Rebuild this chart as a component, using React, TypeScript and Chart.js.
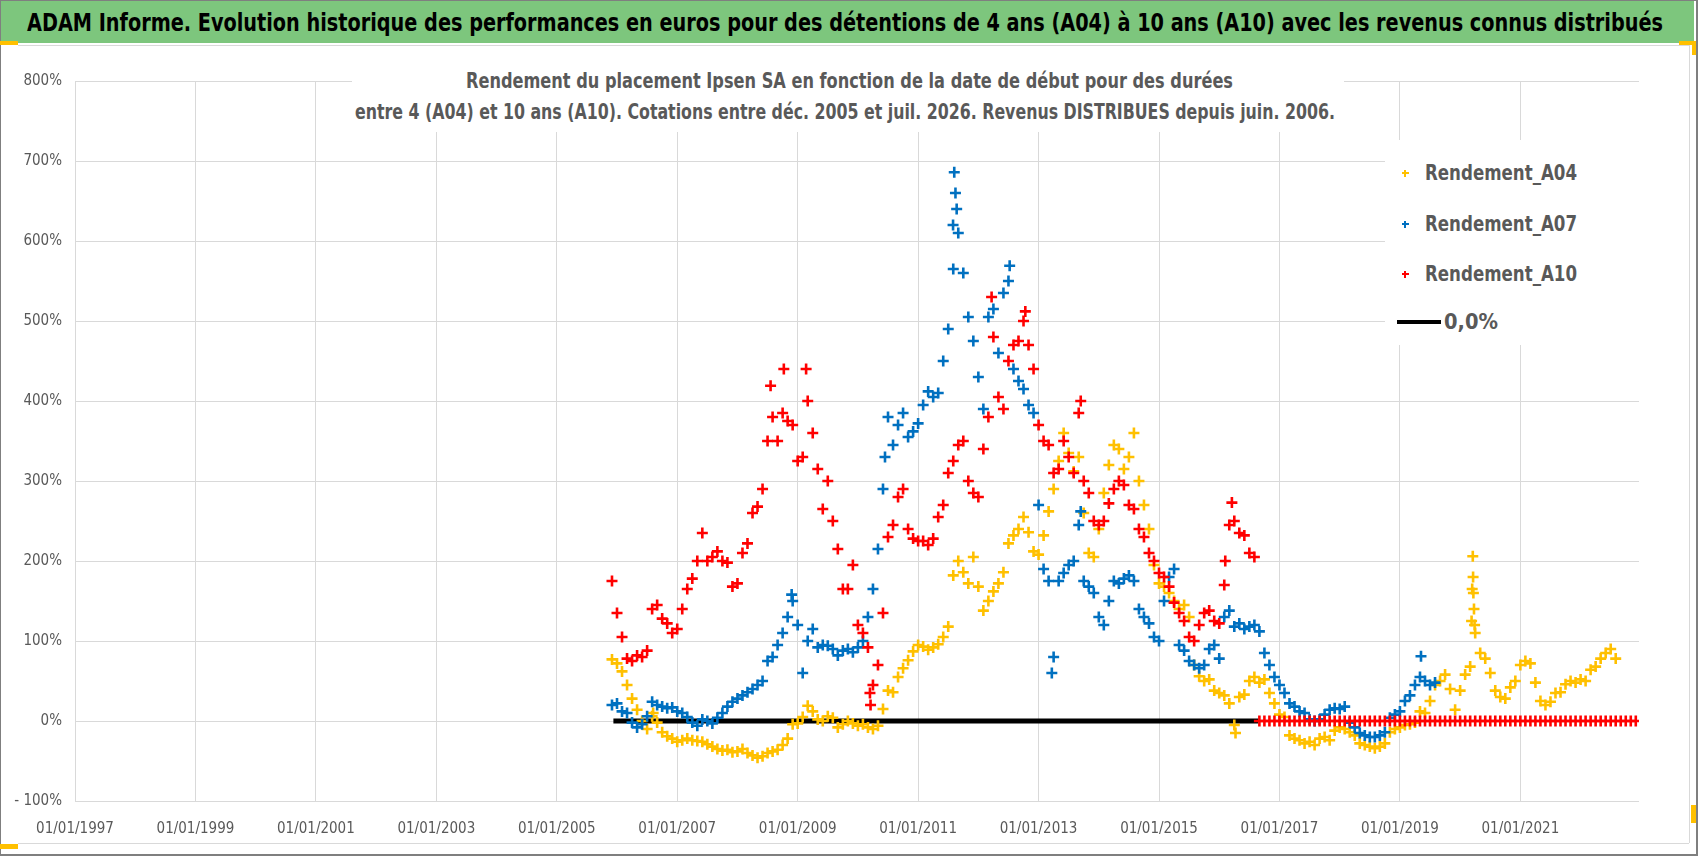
import React, { useEffect, useRef } from "react";
import { Chart, registerables } from "chart.js";

Chart.register(...registerables);

const FONT = "'Liberation Sans Narrow', 'DejaVu Sans Condensed', 'Liberation Sans', sans-serif";

const titleText =
  "ADAM Informe. Evolution historique des performances en euros pour des détentions de 4 ans (A04) à 10 ans (A10) avec les revenus connus distribués";
const subtitleLines = [
  "Rendement du placement Ipsen SA en fonction de la date de début pour des durées",
  "entre 4 (A04) et 10 ans (A10). Cotations entre déc. 2005 et juil. 2026. Revenus DISTRIBUES depuis juin. 2006.",
];
const seriesNames = ["Rendement_A04", "Rendement_A07", "Rendement_A10", "0,0%"];
const seriesColors = ["#FFC000", "#0070C0", "#FF0000", "#000000"];

const xTickYears = [1997, 1999, 2001, 2003, 2005, 2007, 2009, 2011, 2013, 2015, 2017, 2019, 2021];
const yTicks = [-100, 0, 100, 200, 300, 400, 500, 600, 700, 800];
const xMin = 1997;
const xMax = 2022.97;

// monthly series start in December 2005
const firstYear = 2005;
const firstMonth = 11; // 0-based -> December

const a04Values = [
  77,
  72, 62, 45, 28, 14, 0, -10, 6, -2, -14, -19, -22,
  -26, -24, -22, -24, -25, -26, -29, -32, -35, -37, -36, -39,
  -38, -35, -40, -43, -46, -44, -40, -38, -36, -30, -22, -4,
  -3, 5, 19, 12, 2, 0, 6, 4, -8, -4, 0, -3,
  -6, -4, -8, -10, -6, 15, 38, 36, 55, 66, 76, 87,
  95, 93, 89, 92, 96, 105, 118, 182, 200, 186, 172, 205,
  168, 138, 150, 162, 172, 186, 222, 232, 240, 255, 236, 212,
  208, 232, 262, 290, 325, 360, 335, 312, 330, 260, 210, 205,
  240, 285, 320, 345, 340, 315, 330, 360, 300, 270, 240, 195,
  172, 168, 160, 150, 140, 145, 130, 70, 56, 50, 52, 38,
  35, 32, 22, -5, 30, 33, 50, 55, 48, 52, 35, 22,
  8, 5, -18, -22, -24, -28, -26, -30, -22, -20, -24, -12,
  -8, -10, -14, -18, -28, -30, -32, -34, -32, -28, -14, -10,
  -8, -5, -4, -2, 12, 10, 25, 45, 50, 58, 40, 14,
  38, 58, 68, 110, 85, 78, 60, 38, 30, 28, 42, 50,
  70, 75, 72, 48, 25, 20, 24, 35, 36, 46, 50, 48,
  52, 50, 64, 68, 78, 85, 90, 78,
];
const a04Extra: [number, number][] = [
  [2006.6, 10], [2016.27, -15], [2020.19, 125], [2020.2, 165], [2020.21, 206],
  [2020.215, 180], [2020.22, 160], [2020.23, 140], [2020.24, 120],
];

const a07Values = [
  20,
  22, 12, 10, -2, -8, -4, 6, 24, 20, 18, 16, 17,
  12, 10, 5, -2, -6, 2, 0, -3, 4, 10, 18, 24,
  28, 32, 36, 40, 45, 50, 75, 80, 95, 110, 130, 150,
  120, 60, 100, 115, 92, 95, 94, 90, 82, 88, 90, 86,
  92, 100, 130, 165, 215, 290, 380, 345, 370, 385, 355, 362,
  372, 395, 412, 405, 410, 450, 490, 565, 610, 560, 505, 475,
  430, 390, 505, 515, 460, 535, 550, 440, 425, 415, 395, 385,
  270, 190, 175, 80, 175, 185, 195, 200, 245, 175, 168, 160,
  130, 120, 150, 175, 172, 178, 182, 175, 140, 130, 122, 105,
  100, 150, 180, 190, 95, 88, 75, 70, 66, 70, 90, 95,
  78, 130, 138, 118, 122, 115, 118, 120, 112, 85, 70, 55,
  45, 35, 22, 18, 12, 10, 2, 0, 2, 8, 14, 16,
  15, 18, -2, -8, -15, -18, -20, -20, -18, -14, 4, 8,
  12, 25, 32, 45, 55, 50, 45, 48,
];
const a07Extra: [number, number][] = [
  [2008.9, 158], [2010.45, 330], [2011.58, 620], [2011.6, 686], [2011.62, 660],
  [2011.64, 640], [2012.52, 569], [2013.22, 60], [2013.7, 262], [2019.35, 81],
];

const a10Values = [
  175,
  135, 105, 78, 75, 82, 80, 88, 140, 145, 128, 122, 110,
  115, 140, 165, 178, 200, 235, 200, 205, 212, 200, 198, 168,
  172, 210, 222, 260, 268, 290, 350, 380, 350, 385, 375, 370,
  325, 330, 400, 360, 315, 265, 300, 250, 215, 165, 165, 195,
  120, 110, 92, 45, 70, 135, 230, 245, 280, 290, 240, 228,
  225, 225, 220, 228, 255, 270, 310, 325, 345, 350, 300, 285,
  280, 340, 380, 480, 405, 390, 450, 470, 475, 500, 470, 440,
  370, 350, 345, 310, 315, 350, 330, 310, 385, 300, 285, 250,
  245, 250, 272, 290, 300, 295, 270, 265, 240, 230, 210, 200,
  185, 180, 168, 148, 135, 125, 105, 100, 120, 135, 138, 125,
  122, 170, 245, 250, 235, 232, 210, 205,
  0, 0, 0, 0,
  0, 0, 0, 0, 0, 0, 0, 0, 0, 0, 0, 0,
  0, 0, 0, 0, 0, 0, 0, 0, 0, 0, 0, 0,
  0, 0, 0, 0, 0, 0, 0, 0, 0, 0, 0, 0,
  0, 0, 0, 0, 0, 0, 0, 0, 0, 0, 0, 0,
  0, 0, 0, 0, 0, 0, 0, 0, 0, 0, 0, 0,
  0, 0, 0, 0, 0, 0, 0, 0, 0, 0, 0, 0,
];
const a10Extra: [number, number][] = [
  [2008.55, 419], [2008.77, 440], [2009.14, 440], [2010.2, 35], [2010.21, 20],
  [2012.22, 530], [2012.78, 512], [2013.7, 400], [2016.1, 200], [2016.21, 273],
];

const zeroLineStart = 2005.94;
const zeroLineEnd = 2016.65;

function toPoints(values: number[], extra: [number, number][]) {
  const pts = values.map((v, i) => ({ x: firstYear + (firstMonth + i) / 12, y: v }));
  extra.forEach(([x, y]) => pts.push({ x, y }));
  return pts;
}

let measureCtx: CanvasRenderingContext2D | null = null;
function measure(text: string, font: string) {
  if (!measureCtx) measureCtx = document.createElement("canvas").getContext("2d");
  measureCtx!.font = font;
  return measureCtx!.measureText(text).width;
}

function FitText(props: {
  text: string; left: number; cy: number; width: number; font: string; color: string;
}) {
  const w = measure(props.text, props.font) || props.width;
  const k = props.width / w;
  return (
    <div
      style={{
        position: "absolute", left: props.left, top: props.cy, font: props.font,
        color: props.color, whiteSpace: "nowrap", lineHeight: 1,
        transform: `translateY(-50%) scaleX(${k})`, transformOrigin: "left center",
      }}
    >
      {props.text}
    </div>
  );
}

function abs(left: number, top: number, width: number, height: number, bg: string): React.CSSProperties {
  return { position: "absolute", left, top, width, height, background: bg };
}

export default function App() {
  const ref = useRef<HTMLCanvasElement>(null);

  useEffect(() => {
    document.body.style.margin = "0";
    const canvas = ref.current!;
    const cross = (color: string, data: any[], order: number, label: string) => ({
      type: "scatter" as const, label, data, order, pointStyle: "cross" as const,
      pointRadius: 5.5, pointBorderWidth: 2.6, borderColor: color, backgroundColor: color,
      showLine: false,
    });
    const chart = new Chart(canvas, {
      type: "scatter",
      data: {
        datasets: [
          {
            type: "line", label: seriesNames[3],
            data: [{ x: zeroLineStart, y: 0 }, { x: zeroLineEnd, y: 0 }],
            borderColor: seriesColors[3], borderWidth: 5, pointRadius: 0, order: 4,
          } as any,
          cross(seriesColors[0], toPoints(a04Values, a04Extra), 3, seriesNames[0]),
          cross(seriesColors[1], toPoints(a07Values, a07Extra), 2, seriesNames[1]),
          cross(seriesColors[2], toPoints(a10Values, a10Extra), 1, seriesNames[2]),
        ],
      },
      options: {
        animation: false,
        responsive: false,
        maintainAspectRatio: false,
        events: [],
        layout: { padding: { left: 0, right: 59, top: 81, bottom: 10 } },
        plugins: { legend: { display: false }, tooltip: { enabled: false }, title: { display: false } },
        scales: {
          x: {
            type: "linear", min: xMin, max: xMax,
            afterBuildTicks: (s: any) => { s.ticks = xTickYears.map((v) => ({ value: v })); },
            afterFit: (s: any) => { s.height = 45; },
            ticks: {
              callback: (v: any) => `01/01/${v}`, color: "#595959",
              font: { family: FONT, size: 15 }, padding: 19, maxRotation: 0, autoSkip: false,
            },
            grid: { color: "#d9d9d9", lineWidth: 1, drawTicks: false },
            border: { display: false },
          },
          y: {
            type: "linear", min: -100, max: 800,
            afterBuildTicks: (s: any) => { s.ticks = yTicks.map((v) => ({ value: v })); },
            afterFit: (s: any) => { s.width = 75; },
            ticks: {
              callback: (v: any) => (v < 0 ? `- ${-v}%` : `${v}%`), color: "#595959",
              font: { family: FONT, size: 15 }, padding: 13,
            },
            grid: { color: "#d9d9d9", lineWidth: 1, drawTicks: false },
            border: { display: false },
          },
        },
      },
    } as any);
    return () => chart.destroy();
  }, []);

  const titleFont = `bold 25px ${FONT}`;
  const subFont = `bold 22px ${FONT}`;
  const legFont = `bold 22px ${FONT}`;
  const legendRows = [173, 224, 274, 322];

  return (
    <div style={{ position: "fixed", left: 0, top: 0, width: 1698, height: 856, background: "#fff", overflow: "hidden" }}>
      <canvas ref={ref} width={1698} height={856} style={{ position: "absolute", left: 0, top: 0, width: 1698, height: 856 }} />
      {/* frame */}
      <div style={abs(0, 0, 1698, 1, "#7f7f7f")} />
      <div style={abs(0, 0, 1, 856, "#7f7f7f")} />
      <div style={abs(1696, 0, 2, 856, "#7f7f7f")} />
      <div style={abs(0, 854, 1698, 2, "#7f7f7f")} />
      <div style={abs(1, 1, 1693, 42, "#7dc67d")} />
      <div style={abs(18, 45, 1671, 1, "#d9d9d9")} />
      <div style={abs(1689, 45, 1, 798, "#d9d9d9")} />
      <div style={abs(18, 843, 1671, 1, "#d9d9d9")} />
      <div style={abs(0, 41, 18, 4, "#FFC000")} />
      <div style={abs(1679, 41, 17, 4, "#FFC000")} />
      <div style={abs(1692, 41, 4, 14, "#FFC000")} />
      <div style={abs(0, 844, 18, 5, "#FFC000")} />
      <div style={abs(1691, 805, 5, 18, "#FFC000")} />
      <FitText text={titleText} left={27} cy={22} width={1636} font={titleFont} color="#000" />
      {/* subtitle */}
      <div style={abs(352, 58, 992, 74, "#fff")} />
      <FitText text={subtitleLines[0]} left={466} cy={81} width={767} font={subFont} color="#595959" />
      <FitText text={subtitleLines[1]} left={355} cy={112} width={980} font={subFont} color="#595959" />
      {/* legend */}
      <div style={abs(1385, 140, 255, 205, "#fff")} />
      {seriesNames.slice(0, 3).map((n, i) => (
        <React.Fragment key={n}>
          <div style={abs(1401.5, legendRows[i] - 0.75, 7, 1.5, seriesColors[i])} />
          <div style={abs(1404.25, legendRows[i] - 3.5, 1.5, 7, seriesColors[i])} />
          <FitText text={n} left={1425} cy={legendRows[i]} width={152} font={legFont} color="#595959" />
        </React.Fragment>
      ))}
      <div style={abs(1397, legendRows[3] - 2, 44, 4, "#000")} />
      <FitText text={seriesNames[3]} left={1444} cy={legendRows[3]} width={54} font={legFont} color="#595959" />
    </div>
  );
}
